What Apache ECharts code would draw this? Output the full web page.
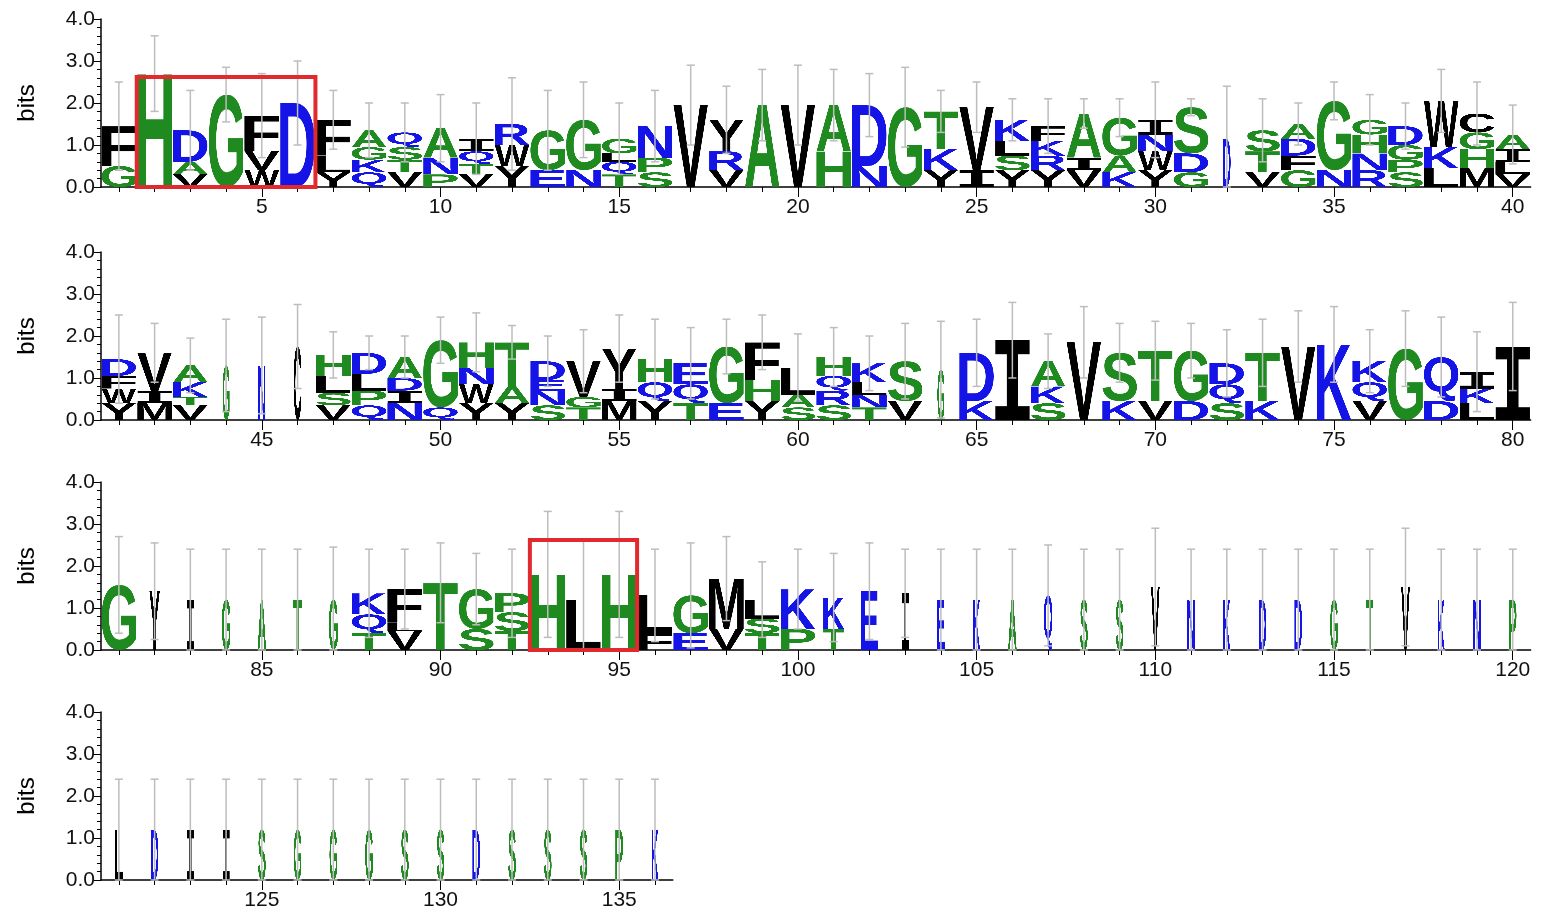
<!DOCTYPE html>
<html><head><meta charset="utf-8">
<script src="https://cdn.jsdelivr.net/npm/echarts@6/dist/echarts.min.js"></script>
<style>html,body{margin:0;background:#fff}#c{width:1545px;height:922px}</style>
</head><body><div id="c"></div>
<script>
// Letter stacks per position, listed top to bottom: letter + height in bits
const logo = [
"F0.95 G0.5","H2.7","D0.75 A0.3 V0.3","G2.2","F0.85 V0.45 W0.4","D2.0","F0.85 L0.4 Y0.35","A0.4 G0.3 K0.3 Q0.35","Q0.35 S0.3 T0.3 V0.35","A0.7 N0.4 P0.3",
"I0.3 Q0.3 T0.25 V0.3","R0.5 W0.5 Y0.5","G0.95 E0.4","G1.2 N0.4","G0.35 L0.2 Q0.3 T0.3","N0.75 P0.35 S0.35","V1.95","Y0.75 R0.45 V0.4","A1.95","V1.95",
"A1.1 H0.85","D1.45 N0.5","G1.9","T0.9 K0.5 Y0.4","V1.5 I0.4","K0.5 L0.35 S0.35 Y0.4","F0.35 K0.35 R0.35 Y0.4","A1.05 I0.3 V0.4","G0.9 A0.4 K0.35","I0.35 N0.4 W0.45 Y0.4",
"S1.1 D0.45 G0.35","D1.15","S0.5 T0.5 V0.35","A0.35 D0.4 F0.35 G0.4","G1.65 N0.4","G0.35 H0.45 N0.4 R0.4","D0.45 G0.35 P0.3 S0.35","W1.1 K0.5 L0.45","C0.45 G0.4 H0.45 M0.45","A0.35 I0.3 L0.3 V0.3",
"D0.4 F0.3 W0.35 Y0.4","V0.9 I0.3 M0.4","A0.4 K0.35 T0.2 V0.35","G1.3","N1.3","C1.75","H0.5 L0.4 S0.3 V0.35","D0.5 L0.4 P0.35 Q0.35","A0.5 D0.3 I0.3 N0.4","G1.6 Q0.3",
"H0.6 N0.4 W0.45 Y0.4","T1.05 A0.4 Y0.4","D0.45 E0.25 N0.35 S0.35","V0.85 G0.25 T0.3","Y0.95 I0.3 M0.45","H0.55 Q0.45 Y0.45","E0.5 Q0.45 T0.4","G1.35 E0.4","F0.9 H0.5 Y0.45","L0.65 A0.3 S0.3",
"H0.45 Q0.35 R0.35 S0.35","K0.45 L0.3 N0.3 T0.3","S0.95 V0.45","G1.2","D1.15 K0.45","I1.9","A0.6 K0.4 S0.4","V1.85","S1.15 K0.45","T1.2 V0.45",
"G1.2 D0.45","D0.5 Q0.45 S0.4","T1.15 K0.45","V1.75","K1.8","K0.5 Q0.45 V0.45","G1.7","Q1.05 D0.45","I0.4 K0.35 L0.4","I1.75",
"G1.55","Y1.4","I1.2","G1.2","A1.2","T1.2","G1.2","K0.5 Q0.45 T0.4","F0.8 L0.2 V0.45","T1.6",
"G0.95 S0.5","P0.45 S0.45 T0.45","H1.8","L1.2","H1.8","L0.9 F0.4","G0.9 E0.4","M1.2 V0.5","L0.45 S0.35 T0.4","K0.95 P0.5",
"K0.75 T0.5","E1.4","I1.35","E1.2","K1.2","A1.2","Q1.3","S1.2","S1.2","V1.5",
"N1.2","K1.2","D1.2","D1.2","G1.2","T1.2","V1.5","K1.2","N1.2","P1.2",
"L1.2","D1.2","I1.2","I1.2","S1.2","G1.2","G1.2","G1.2","S1.2","S1.2",
"D1.2","S1.2","S1.2","S1.2","P1.2","K1.2"
];
// Column width factor (low-occupancy columns are narrow)
const narrow = {32:0.22,44:0.2,45:0.2,46:0.22,64:0.2,82:0.3,83:0.2,84:0.25,85:0.25,86:0.25,87:0.25,101:0.6,102:0.5,
103:0.2,104:0.22,105:0.2,106:0.25,107:0.25,108:0.22,109:0.22,110:0.25,111:0.22,112:0.2,113:0.22,114:0.22,115:0.22,116:0.2,117:0.25,118:0.2,119:0.22,120:0.22,
121:0.22,122:0.22,123:0.2,124:0.2,125:0.22,126:0.22,127:0.22,128:0.22,129:0.22,130:0.22,131:0.22,132:0.22,133:0.22,134:0.22,135:0.22,136:0.2};
// Error bar top (bits)
const errTop = [
2.5,3.6,2.3,2.85,2.7,3.0,2.3,2.0,2.0,2.2, 2.0,2.6,2.3,2.5,2.0,2.3,2.9,2.4,2.8,2.9,
2.8,2.7,2.85,2.3,2.5,2.1,2.1,2.1,2.1,2.5, 2.1,2.4,2.1,2.0,2.5,2.2,2.0,2.8,2.5,1.95,
2.5,2.3,1.95,2.4,2.45,2.75,2.1,2.0,2.0,2.45, 2.55,2.25,2.0,2.15,2.5,2.4,2.2,2.4,2.5,2.05,
2.2,2.0,2.3,2.35,2.4,2.8,2.05,2.7,2.3,2.35, 2.3,2.15,2.4,2.6,2.7,2.15,2.6,2.45,2.1,2.8,
2.7,2.55,2.4,2.4,2.4,2.4,2.45,2.4,2.4,2.55, 2.3,2.4,3.3,2.6,3.3,2.4,2.55,2.7,2.1,2.4,
2.3,2.55,2.4,2.4,2.4,2.4,2.5,2.4,2.4,2.9, 2.4,2.4,2.4,2.4,2.4,2.4,2.9,2.4,2.4,2.4,
2.4,2.4,2.4,2.4,2.4,2.4,2.4,2.4,2.4,2.4, 2.4,2.4,2.4,2.4,2.4,2.4
];
const boxes = [[2,6],[93,95]];
const boxTop = 2.62;
const rowStarts = [1,41,81,121];
const rowEnds = [40,80,120,136];

const GREEN='#1f8a1f', BLUE='#1414e6', BLACK='#000000';
const colorOf = ch => 'GSTAHP'.includes(ch) ? GREEN : ('DEKRQN'.includes(ch) ? BLUE : BLACK);
const cache = {};
function glyph(ch){
  if(cache[ch]) return cache[ch];
  const c=document.createElement('canvas'), ctx=c.getContext('2d');
  const font= ch==='I' ? 'bold 200px "DejaVu Sans Mono"' : 'bold 200px "Liberation Sans"';
  ctx.font=font; const m=ctx.measureText(ch);
  const w=Math.ceil(m.actualBoundingBoxLeft+m.actualBoundingBoxRight), h=Math.ceil(m.actualBoundingBoxAscent+m.actualBoundingBoxDescent);
  c.width=w; c.height=h;
  ctx.font=font; ctx.fillStyle=colorOf(ch);
  ctx.fillText(ch, m.actualBoundingBoxLeft, m.actualBoundingBoxAscent);
  return cache[ch]=c;
}
function parse(s){return s.split(' ').map(t=>({ch:t[0],h:parseFloat(t.slice(1))}));}

const unitPx = 35.74, left=101;
const tops=[19,252,482,712], H=168;
const grids=[],xAxes=[],yAxes=[],series=[];
rowStarts.forEach((s,r)=>{
  const n=rowEnds[r]-s+1;
  grids.push({left:left,top:tops[r],width:n*unitPx,height:H});
  const ints=[],labs=[];
  for(let p=s;p<=rowEnds[r];p++){ints.push(p); if(p%5===0) labs.push(p);}
  xAxes.push({type:'value',gridIndex:r,min:s-0.5,max:rowEnds[r]+0.5,
    axisLine:{lineStyle:{color:'#000',width:1.5}},splitLine:{show:false},
    axisTick:{customValues:ints,length:5,lineStyle:{color:'#000'}},
    axisLabel:{customValues:labs,fontSize:21,color:'#111',fontFamily:'Liberation Sans',margin:10}});
  xAxes.push({type:'value',gridIndex:r,min:s-0.5,max:rowEnds[r]+0.5,position:'bottom',
    axisLine:{show:false},splitLine:{show:false},
    axisTick:{customValues:labs,length:10,lineStyle:{color:'#000'}},axisLabel:{show:false}});
  yAxes.push({type:'value',gridIndex:r,min:0,max:4,interval:1,name:'bits',nameLocation:'middle',nameGap:62,
    nameTextStyle:{fontSize:24,color:'#000',fontFamily:'Liberation Sans'},
    axisLine:{show:true,lineStyle:{color:'#000',width:1.5}},splitLine:{show:false},
    axisTick:{show:true,length:7,lineStyle:{color:'#000'}},
    minorTick:{show:true,splitNumber:5,length:4,lineStyle:{color:'#000'}},
    axisLabel:{formatter:v=>v.toFixed(1),fontSize:21,color:'#111',fontFamily:'Liberation Sans',margin:6}});
  const data=[]; for(let p=s;p<=rowEnds[r];p++) data.push([p]);
  series.push({type:'custom',xAxisIndex:2*r,yAxisIndex:r,data:data,z:3,
    renderItem:(params,api)=>{
      const p=api.value(0), stack=parse(logo[p-1]).reverse();
      const wf=(narrow[p]||1)*0.97;
      const ch=[]; let y0=0;
      const cx=api.coord([p,0])[0], unit=api.size([1,1]);
      const w=unit[0]*wf;
      stack.forEach(l=>{
        const b=api.coord([p,y0])[1], t=api.coord([p,y0+l.h])[1];
        ch.push({type:'image',style:{image:glyph(l.ch),x:cx-w/2,y:t,width:w,height:b-t}});
        y0+=l.h;
      });
      const e=errTop[p-1], lo=Math.max(0,2*y0-e);
      const yt=api.coord([p,e])[1], yb=api.coord([p,lo])[1];
      const st={stroke:'#bdbdbd',lineWidth:1.5};
      ch.push({type:'line',shape:{x1:cx,y1:yt,x2:cx,y2:yb},style:st,z2:5});
      ch.push({type:'line',shape:{x1:cx-4,y1:yt,x2:cx+4,y2:yt},style:st,z2:5});
      ch.push({type:'line',shape:{x1:cx-4,y1:yb,x2:cx+4,y2:yb},style:st,z2:5});
      return {type:'group',children:ch};
    }});
});
boxes.forEach(b=>{
  const r=rowStarts.findIndex((s,i)=>b[0]>=s&&b[0]<=rowEnds[i]);
  series.push({type:'custom',xAxisIndex:2*r,yAxisIndex:r,data:[[b[0],b[1]]],z:5,
    renderItem:(params,api)=>{
      const a=api.coord([api.value(0)-0.5,boxTop]), c=api.coord([api.value(1)+0.5,0]);
      return {type:'rect',shape:{x:a[0],y:a[1],width:c[0]-a[0],height:c[1]-a[1]},style:{fill:'none',stroke:'#e02a2e',lineWidth:4}};
    }});
});
const chart=echarts.init(document.getElementById('c'));
chart.setOption({animation:false,grid:grids,xAxis:xAxes,yAxis:yAxes,series:series});
</script></body></html>
